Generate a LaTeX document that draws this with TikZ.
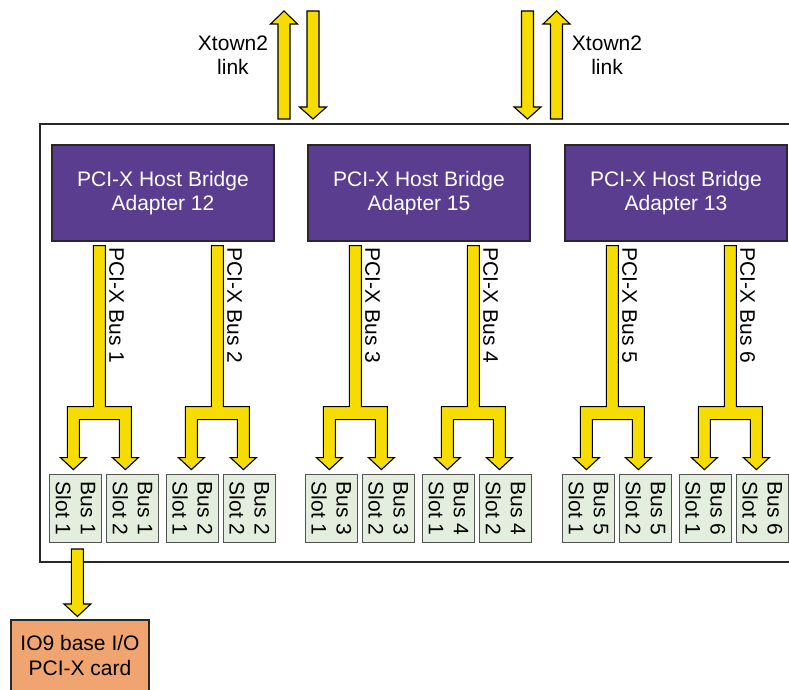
\documentclass[tikz,border=0pt]{standalone}
\usepackage{fontspec}
\setmainfont{Liberation Sans}
\usetikzlibrary{calc}
\definecolor{hbpurple}{RGB}{91,61,143}
\definecolor{busyellow}{RGB}{247,220,0}
\definecolor{slotfill}{RGB}{228,238,222}
\definecolor{iofill}{RGB}{240,165,112}
\definecolor{edgegray}{RGB}{40,40,40}
\tikzset{
  hostbox/.style={draw=edgegray, line width=1.2pt, fill=hbpurple, text=white,
    minimum width=222pt, minimum height=96pt, align=center, inner sep=0pt,
    font=\fontsize{21}{24.5}\selectfont},
  slotbox/.style={draw=edgegray!80, line width=1.2pt, fill=slotfill,
    minimum width=52pt, minimum height=67.5pt, inner sep=0pt},
  slottext/.style={rotate=-90, align=center, inner sep=0pt,
    font=\fontsize{21}{25}\selectfont},
  buslabel/.style={rotate=-90, anchor=base west, inner sep=0pt,
    font=\fontsize{21}{24.5}\selectfont},
  plainlabel/.style={align=center, inner sep=0pt, font=\fontsize{21}{24.5}\selectfont},
  fat/.style={draw=black, line width=1.1pt, fill=busyellow, line join=miter},
  framebox/.style={draw=edgegray, line width=1.3pt},
  iobox/.style={draw=edgegray, line width=1.2pt, fill=iofill},
}
% fork arrow from a host bridge down to two slots
\newcommand\forkarrow[1]{%
  \draw[fat] (#1) ++(-6,0) -- ++(0,161) -- ++(-26,0) -- ++(0,51) -- ++(-7,0)
    -- ++(13,12) -- ++(13,-12) -- ++(-7,0) -- ++(0,-38) -- ++(40,0) -- ++(0,38)
    -- ++(-7,0) -- ++(13,12) -- ++(13,-12) -- ++(-7,0) -- ++(0,-51) -- ++(-26,0)
    -- ++(0,-161) -- cycle;}
% straight arrow pointing down: start at top centre, stem length, head length
\newcommand\downfat[3]{%
  \draw[fat] (#1) ++(-6,0) -- ++(0,#2) -- ++(-7.5,0) -- ++(13.5,#3)
    -- ++(13.5,-#3) -- ++(-7.5,0) -- ++(0,-#2) -- cycle;}
% straight arrow pointing up: start at bottom centre
\newcommand\upfat[3]{%
  \draw[fat] (#1) ++(-6,0) -- ++(0,-#2) -- ++(-7.5,0) -- ++(13.5,-#3)
    -- ++(13.5,#3) -- ++(-7.5,0) -- ++(0,#2) -- cycle;}
\begin{document}
\begin{tikzpicture}[x=1pt,y=-1pt]
\useasboundingbox (0,0) rectangle (789,690);
% outer frame (right side runs off the page)
\coordinate (frTL) at (40,124);
\coordinate (frBL) at (40,562);
\draw[framebox] (800,124) -- (frTL) -- (frBL) -- (800,562);

% host bridges
\node[hostbox] (hb1) at (163,193) {PCI-X Host Bridge\\Adapter 12};
\node[hostbox] (hb2) at (419,193) {PCI-X Host Bridge\\Adapter 15};
\node[hostbox] (hb3) at (676,193) {PCI-X Host Bridge\\Adapter 13};

% slots, bus stems and labels
\foreach \h/\ba/\bb in {hb1/1/2, hb2/3/4, hb3/5/6}{
  \coordinate (\h-L) at ($(\h.south west)+(0,267)$);
  \node[slotbox] (s\ba a) at ($(\h.south west)+(24,267)$) {};
  \node[slotbox] (s\ba b) at ($(\h.south west)+(81,267)$) {};
  \node[slotbox] (s\bb a) at ($(\h.south west)+(141,267)$) {};
  \node[slotbox] (s\bb b) at ($(\h.south west)+(198,267)$) {};
  \node[slottext] (t\ba a) at (s\ba a) {Bus \ba\\Slot 1};
  \node[slottext] (t\ba b) at (s\ba b) {Bus \ba\\Slot 2};
  \node[slottext] (t\bb a) at (s\bb a) {Bus \bb\\Slot 1};
  \node[slottext] (t\bb b) at (s\bb b) {Bus \bb\\Slot 2};
  \coordinate (st\ba) at ($(\h.south west)+(48,4)$);
  \coordinate (st\bb) at ($(\h.south west)+(166,4)$);
  \forkarrow{st\ba}
  \forkarrow{st\bb}
  \node[buslabel] (bl\ba) at ($(st\ba)+(10,2)$) {PCI-X Bus \ba};
  \node[buslabel] (bl\bb) at ($(st\bb)+(10,2)$) {PCI-X Bus \bb};
}

% Xtown2 links
\coordinate (xa) at (284,119);
\coordinate (xb) at (313,11);
\coordinate (xc) at (527.5,11);
\coordinate (xd) at (556.5,119);
\upfat{xa}{95}{13}
\downfat{xb}{96}{12}
\downfat{xc}{96}{12}
\upfat{xd}{95}{13}
\node[plainlabel] (xl1) at (233,55) {Xtown2\\link};
\node[plainlabel] (xl2) at (607,55) {Xtown2\\link};

% IO9 card
\draw[iobox] (11,700) -- (11,620) -- (149,620) -- (149,700);
\node[plainlabel] (io) at (80,655.5) {IO9 base I/O\\PCI-X card};
\coordinate (ioA) at ($(s1a.south)+(2,6)$);
\downfat{ioA}{55}{12.5}
\end{tikzpicture}
\end{document}
